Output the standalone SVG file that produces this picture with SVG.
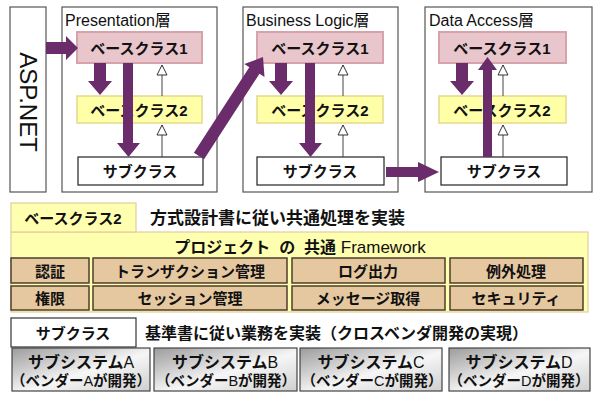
<svg xmlns="http://www.w3.org/2000/svg" width="596" height="400" viewBox="0 0 596 400">
<defs>
<linearGradient id="sg" x1="0" y1="0" x2="1" y2="1">
<stop offset="0" stop-color="#9c9c9c"/>
<stop offset="0.55" stop-color="#f6f6f6"/>
<stop offset="1" stop-color="#cfcfcf"/>
</linearGradient>
<marker id="tri" markerWidth="12" markerHeight="12" refX="11" refY="6" orient="auto" markerUnits="userSpaceOnUse">
<path d="M1,1 L11,6 L1,11 Z" fill="#fff" stroke="#333" stroke-width="1"/>
</marker>
<style>
text{font-family:"Liberation Sans","Noto Sans CJK JP",sans-serif;fill:#111}
.b{font-weight:bold}
.t15{font-size:15px}
.t16{font-size:16px}
.t17{font-size:17px}
.t2{font-size:14.5px}
.layer{fill:#fff;stroke:#555;stroke-width:1.2}
.bc1{fill:#e8c6cb;stroke:#d6a2ac;stroke-width:2}
.bc2{fill:#ffffa8;stroke:#e4d98c;stroke-width:1.5}
.sub{fill:#fff;stroke:#222;stroke-width:1.2}
.arrow{fill:#6b2c6c}
.inh{stroke:#444;stroke-width:1;fill:none;marker-end:url(#tri)}
.cell{fill:#e6c8a0;stroke:#4e3e2c;stroke-width:1.5}
.ss{fill:url(#sg);stroke:#444;stroke-width:1.2}
.lbl{text-anchor:middle;dominant-baseline:central}
</style>
</defs>

<g id="aspnet">
<rect x="10" y="7" width="36" height="185" class="layer"/>
<text class="lbl" font-size="24" transform="translate(28,102) rotate(90)">ASP.NET</text>
</g>

<g id="presentation">
<rect x="62" y="7" width="155" height="185" class="layer"/>
<text x="65" y="26" class="t16">Presentation層</text>
<g id="p-bc1"><rect x="77" y="32" width="125" height="31" class="bc1"/><text x="139" y="48" class="lbl b t15">ベースクラス1</text></g>
<g id="p-bc2"><rect x="77" y="96" width="125" height="27" class="bc2"/><text x="139" y="110" class="lbl b t15">ベースクラス2</text></g>
<g id="p-sub"><rect x="78" y="157" width="125" height="28" class="sub"/><text x="140" y="171" class="lbl b t15">サブクラス</text></g>
</g>

<g id="business">
<rect x="243" y="7" width="155" height="185" class="layer"/>
<text x="246" y="26" class="t16">Business Logic層</text>
<g id="b-bc1"><rect x="257" y="32" width="126" height="31" class="bc1"/><text x="320" y="48" class="lbl b t15">ベースクラス1</text></g>
<g id="b-bc2"><rect x="257" y="96" width="126" height="27" class="bc2"/><text x="320" y="110" class="lbl b t15">ベースクラス2</text></g>
<g id="b-sub"><rect x="257" y="157" width="127" height="28" class="sub"/><text x="320" y="171" class="lbl b t15">サブクラス</text></g>
</g>

<g id="dataaccess">
<rect x="425" y="7" width="167" height="185" class="layer"/>
<text x="429" y="26" class="t16">Data Access層</text>
<g id="d-bc1"><rect x="439" y="32" width="127" height="31" class="bc1"/><text x="502" y="48" class="lbl b t15">ベースクラス1</text></g>
<g id="d-bc2"><rect x="439" y="96" width="127" height="27" class="bc2"/><text x="502" y="110" class="lbl b t15">ベースクラス2</text></g>
<g id="d-sub"><rect x="441" y="157" width="126" height="28" class="sub"/><text x="504" y="171" class="lbl b t15">サブクラス</text></g>
</g>

<g id="connectors">
<line x1="162" y1="157" x2="162" y2="125" class="inh"/>
<line x1="162" y1="96" x2="162" y2="65" class="inh"/>
<line x1="343" y1="157" x2="343" y2="125" class="inh"/>
<line x1="343" y1="96" x2="343" y2="65" class="inh"/>
<line x1="503" y1="157" x2="503" y2="125" class="inh"/>
<line x1="503" y1="96" x2="503" y2="65" class="inh"/>
<polygon class="arrow" points="46,42 66,42 66,36 78,48 66,60 66,54 46,54"/>
<polygon class="arrow" points="94,63 106,63 106,81 112,81 100,95 88,81 94,81"/>
<polygon class="arrow" points="123,63 133,63 133,143 140,143 128.5,157 117,143 123,143"/>
<polygon class="arrow" points="275,63 287,63 287,81 293,81 281,95 269,81 275,81"/>
<polygon class="arrow" points="305,63 315,63 315,143 322,143 310.5,157 299,143 305,143"/>
<polygon class="arrow" points="456,63 468,63 468,81 474,81 462,95 450,81 456,81"/>
<polygon class="arrow" points="483,157 492,157 492,70 497,70 487.5,57 478,70 483,70"/>
<polygon class="arrow" points="193.9,152.8 249.3,67.3 244.3,64.1 263,57 264.5,77 259.5,73.7 204.1,159.2"/>
<polygon class="arrow" points="386,167 418,167 418,162 439,172 418,182 418,177 386,177"/>
</g>

<g id="framework">
<rect x="11" y="232" width="577" height="80" fill="#ffffb0" stroke="#e2cc9e" stroke-width="1.2"/>
<rect x="11" y="203" width="125" height="29" fill="#ffffb0" stroke="#e2cc9e" stroke-width="1.2"/>
<text x="73" y="218" class="lbl b t15">ベースクラス2</text>
<text x="150" y="224" class="b t17">方式設計書に従い共通処理を実装</text>
<text x="300" y="247" class="lbl" font-size="17" xml:space="preserve"><tspan class="b" font-size="16">プロジェクト  の  共通</tspan> Framework</text>
<g id="c-auth"><rect x="11" y="258" width="78" height="25" class="cell"/><text x="50" y="271" class="lbl b t15">認証</text></g>
<g id="c-tx"><rect x="93" y="258" width="194" height="25" class="cell"/><text x="190" y="271" class="lbl b t15">トランザクション管理</text></g>
<g id="c-log"><rect x="292" y="258" width="153" height="25" class="cell"/><text x="368" y="271" class="lbl b t15">ログ出力</text></g>
<g id="c-exc"><rect x="450" y="258" width="133" height="25" class="cell"/><text x="516" y="271" class="lbl b t15">例外処理</text></g>
<g id="c-perm"><rect x="11" y="286" width="78" height="24" class="cell"/><text x="50" y="298" class="lbl b t15">権限</text></g>
<g id="c-sess"><rect x="93" y="286" width="194" height="24" class="cell"/><text x="190" y="298" class="lbl b t15">セッション管理</text></g>
<g id="c-msg"><rect x="292" y="286" width="153" height="24" class="cell"/><text x="368" y="298" class="lbl b t15">メッセージ取得</text></g>
<g id="c-sec"><rect x="450" y="286" width="133" height="24" class="cell"/><text x="516" y="298" class="lbl b t15">セキュリティ</text></g>
</g>

<g id="subclass">
<rect x="11" y="318" width="125" height="29" fill="#fff" stroke="#333" stroke-width="1.2"/>
<text x="73" y="333" class="lbl b t15">サブクラス</text>
<text x="145" y="339" class="b t16">基準書に従い業務を実装（クロスベンダ開発の実現）</text>
<g id="ssA"><rect x="12" y="348" width="138" height="43" class="ss"/>
<text x="81" y="362" class="lbl t16"><tspan class="b">サブシステム</tspan>A</text>
<text x="81" y="381" class="lbl t2"><tspan class="b">（ベンダー</tspan>A<tspan class="b">が開発）</tspan></text></g>
<g id="ssB"><rect x="154" y="348" width="143" height="43" class="ss"/>
<text x="225" y="362" class="lbl t16"><tspan class="b">サブシステム</tspan>B</text>
<text x="226" y="381" class="lbl t2"><tspan class="b">（ベンダー</tspan>B<tspan class="b">が開発）</tspan></text></g>
<g id="ssC"><rect x="300" y="348" width="142" height="43" class="ss"/>
<text x="371" y="362" class="lbl t16"><tspan class="b">サブシステム</tspan>C</text>
<text x="372" y="381" class="lbl t2"><tspan class="b">（ベンダー</tspan>C<tspan class="b">が開発）</tspan></text></g>
<g id="ssD"><rect x="449" y="348" width="141" height="43" class="ss"/>
<text x="519" y="362" class="lbl t16"><tspan class="b">サブシステム</tspan>D</text>
<text x="519" y="381" class="lbl t2"><tspan class="b">（ベンダー</tspan>D<tspan class="b">が開発）</tspan></text></g>
</g>
</svg>
